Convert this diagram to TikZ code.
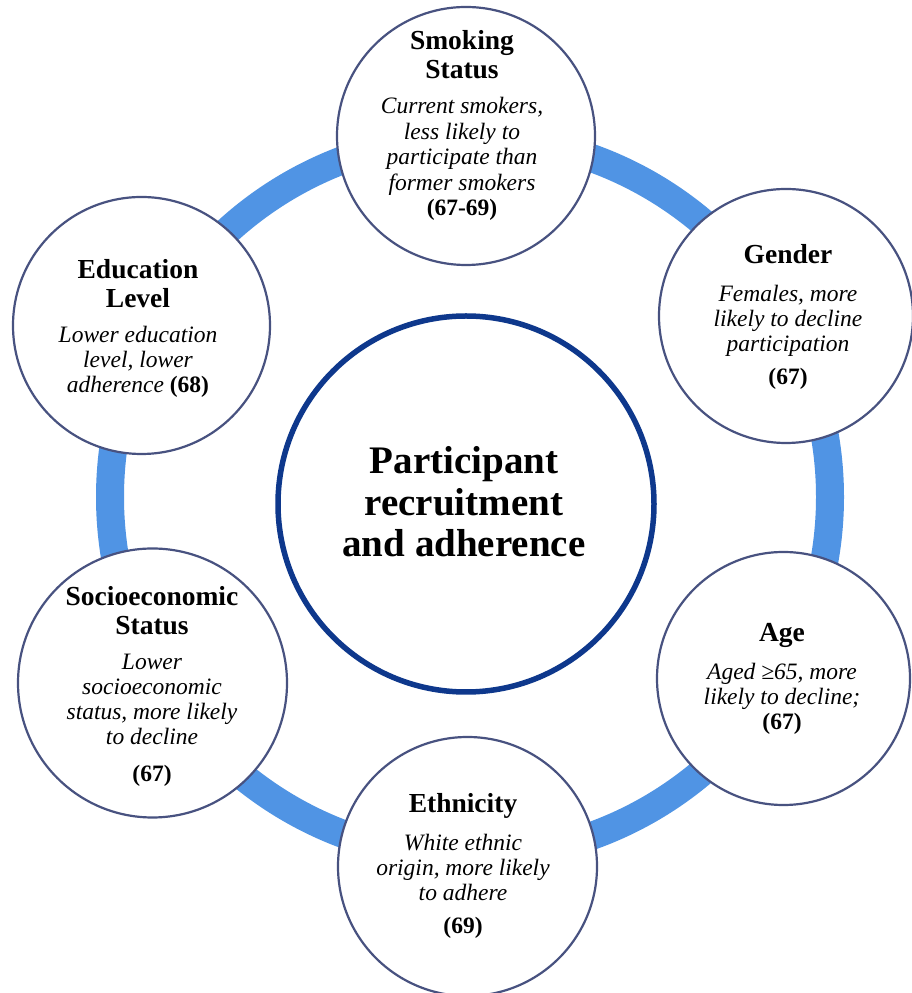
\documentclass[tikz,border=0pt]{standalone}
\usepackage{fontspec}
\setmainfont{Liberation Serif}
\definecolor{ringblue}{RGB}{80,148,228}
\definecolor{navy}{RGB}{14,56,140}
\definecolor{rimgray}{RGB}{72,82,128}
\newcommand{\cSp}{\spaceskip=\fontdimen2\font\xspaceskip=\fontdimen2\font\relax}
\newcommand{\cTitle}{\fontsize{27.5}{29}\selectfont\bfseries\cSp}
\newcommand{\cDesc}{\fontsize{23.5}{25}\selectfont\itshape\cSp}
\newcommand{\cNum}{\fontsize{23.5}{25}\selectfont\bfseries\upshape\cSp}
\newcommand{\cMain}{\fontsize{39}{41.5}\selectfont\bfseries\cSp}
\begin{document}
\begin{tikzpicture}[x=1pt,y=1pt,
  factor/.style={circle, draw=rimgray, line width=2.2pt, fill=white, inner sep=0pt},
  txt/.style={align=flush center, text width=270pt, inner sep=0pt},
  hubstyle/.style={circle, draw=navy, line width=5.5pt, fill=white, inner sep=0pt}]
\useasboundingbox (0,0) rectangle (912,993);
\fill[white] (0,0) rectangle (912,993);
% outer ring
\coordinate (rc) at (470,496);
\draw[ringblue, line width=28pt] (rc) circle (360);
% hub
\node[hubstyle, minimum size=376pt] (hub) at (466,489) {};
\node[txt] (hubT) at (464,491) {\cMain Participant\\recruitment\\and adherence\par};
% factor circles
\node[factor, minimum size=258pt] (smk) at (466,857) {};
\node[factor, minimum size=254pt] (gen) at (786,677) {};
\node[factor, minimum size=253pt] (age) at (783.5,314.5) {};
\node[factor, minimum size=259pt] (eth) at (467.5,126.5) {};
\node[factor, minimum size=269pt] (soc) at (152.5,310) {};
\node[factor, minimum size=257pt] (edu) at (141.5,667.5) {};
% texts
\node[txt] (smkT) at (462,868) {{\cTitle Smoking\\Status\par}\vspace{10pt}{\cDesc\baselineskip=25.5pt Current smokers,\\less likely to\\participate than\\former smokers\par}{\cNum (67-69)\par}};
\node[txt] (genT) at (788,676) {{\cTitle Gender\par}\vspace{13pt}{\cDesc Females, more\\likely to decline\\participation\par}\vspace{8pt}{\cNum (67)\par}};
\node[txt] (eduT) at (138,665) {{\cTitle Education\\Level\par}\vspace{10pt}{\cDesc Lower education\\level, lower\\adherence {\cNum (68)}\par}};
\node[txt] (socT) at (152,307) {{\cTitle Socioeconomic\\Status\par}\vspace{10pt}{\cDesc Lower\\socioeconomic\\status, more likely\\to decline\par}\vspace{12pt}{\cNum (67)\par}};
\node[txt] (ageT) at (782,314) {{\cTitle Age\par}\vspace{13pt}{\cDesc Aged ≥65, more\\likely to decline;\par}{\cNum (67)\par}};
\node[txt] (ethT) at (463,127) {{\cTitle Ethnicity\par}\vspace{13pt}{\cDesc White ethnic\\origin, more likely\\to adhere\par}\vspace{8pt}{\cNum (69)\par}};
\end{tikzpicture}
\end{document}
